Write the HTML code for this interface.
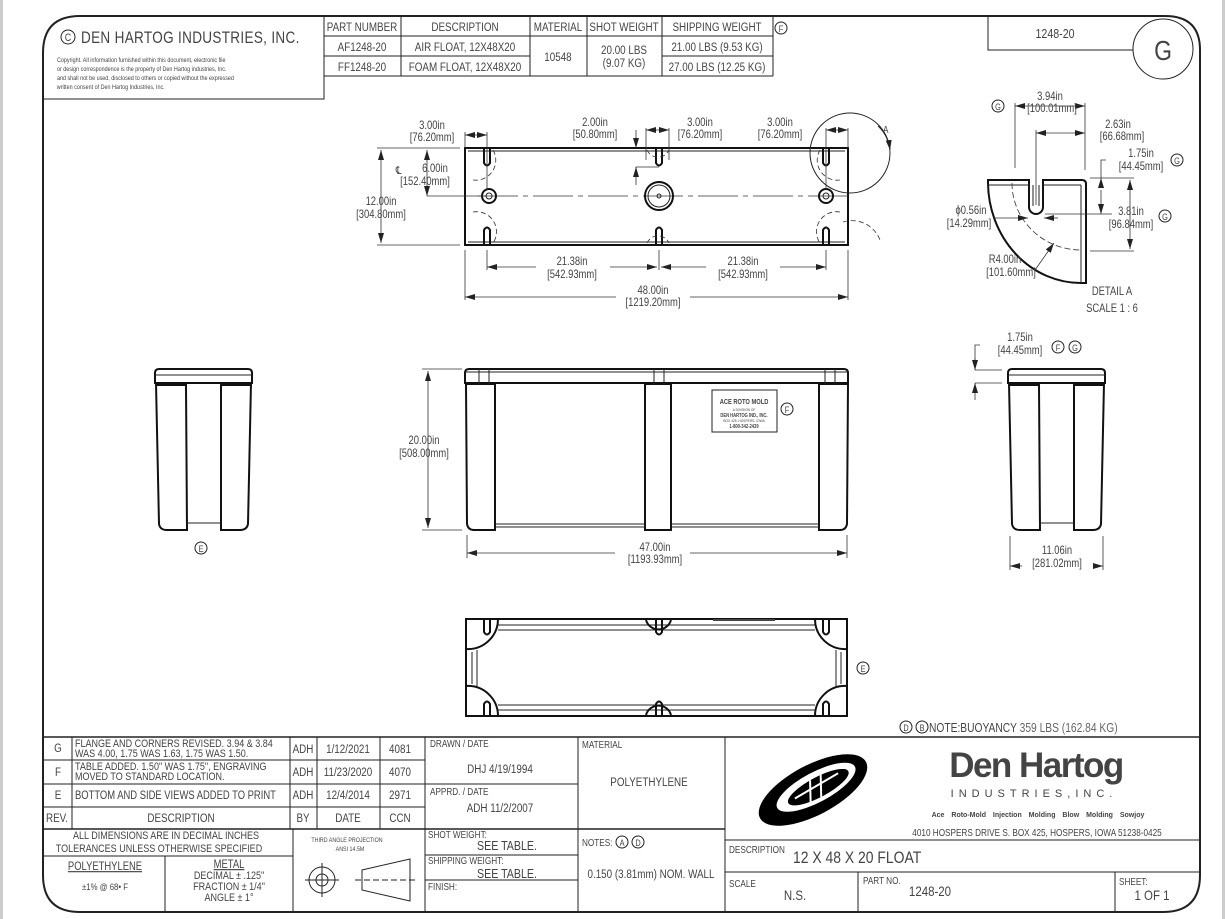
<!DOCTYPE html>
<html><head><meta charset="utf-8"><style>
html,body{margin:0;padding:0;background:#fff;}
svg{display:block;}
text{font-family:"Liberation Sans",sans-serif;fill:#444;transform-box:fill-box;transform-origin:left center;transform:scaleX(0.82);}
text[text-anchor="middle"], g[text-anchor="middle"] text{transform-origin:center center;}
text.nos{transform:none;}
.l{stroke:#222;fill:none;stroke-width:1;}
.t{stroke:#111;fill:none;stroke-width:2;}
.d{stroke:#333;fill:none;stroke-width:0.8;}
</style></head><body>
<svg width="1225" height="919" viewBox="0 0 1225 919" xmlns="http://www.w3.org/2000/svg">
<defs>
<marker id="a" viewBox="0 0 10 6" refX="10" refY="3" markerWidth="10" markerHeight="6" orient="auto-start-reverse" markerUnits="userSpaceOnUse"><path d="M0,0L10,3L0,6z" fill="#222"/></marker>
<g id="side">
<path class="t" d="M0,4 Q0,0 4,0 L93,0 Q97,0 97,4 L97,14 L0,14 Z"/>
<line class="l" x1="0" y1="6" x2="97" y2="6"/>
<path class="t" d="M1,14 L4,155 Q5,161 12,161 L32,161 L31,16 L1,16"/>
<path class="t" d="M96,14 L93,155 Q92,161 85,161 L66,161 L66,16 L96,16"/>
<line class="l" x1="31" y1="154" x2="66" y2="154"/>
</g>
</defs>
<rect x="0" y="0" width="3" height="919" fill="#ccc"/>
<rect x="1222" y="0" width="3" height="919" fill="#ccc"/>
<path d="M80,16 L1165,16 Q1200,16 1200,50 L1200,875 Q1200,912 1163,912 L80,912 Q43,912 43,875 L43,53 Q43,16 80,16 Z" fill="none" stroke="#222" stroke-width="2"/>
<path class="l" d="M43,99 L324,99 L324,16"/>
<circle cx="68" cy="37" r="7" class="l"/><text x="68" y="41" font-size="11" text-anchor="middle">C</text>
<text x="81" y="43" font-size="16.5" letter-spacing="0.4">DEN HARTOG INDUSTRIES, INC.</text>
<text x="57" y="62" font-size="6.6">Copyright. All information furnished within this document, electronic file</text>
<text x="57" y="71" font-size="6.6">or design correspondence is the property of Den Hartog industries, Inc.</text>
<text x="57" y="80" font-size="6.6">and shall not be used, disclosed to others or copied without the expressed</text>
<text x="57" y="89" font-size="6.6">written consent of Den Hartog Industries, Inc.</text>
<g class="l">
<line x1="324" y1="36" x2="773" y2="36"/><line x1="324" y1="56" x2="530" y2="56"/><line x1="662" y1="56" x2="773" y2="56"/>
<line x1="324" y1="76" x2="773" y2="76"/>
<line x1="401" y1="16" x2="401" y2="76"/><line x1="530" y1="16" x2="530" y2="76"/><line x1="587" y1="16" x2="587" y2="76"/><line x1="662" y1="16" x2="662" y2="76"/><line x1="773" y1="16" x2="773" y2="76"/>
</g>
<g font-size="12" text-anchor="middle">
<text x="362" y="31">PART NUMBER</text><text x="465" y="31">DESCRIPTION</text><text x="558" y="31">MATERIAL</text><text x="624" y="31">SHOT WEIGHT</text><text x="717" y="31">SHIPPING WEIGHT</text>
<text x="362" y="51">AF1248-20</text><text x="465" y="51">AIR FLOAT, 12X48X20</text>
<text x="362" y="71">FF1248-20</text><text x="465" y="71">FOAM FLOAT, 12X48X20</text>
<text x="558" y="61">10548</text><text x="624" y="54">20.00 LBS</text><text x="624" y="67">(9.07 KG)</text>
<text x="717" y="51">21.00 LBS (9.53 KG)</text><text x="717" y="71">27.00 LBS (12.25 KG)</text>
</g>
<circle cx="781" cy="28" r="6" class="l"/><text x="781" y="32" font-size="9" text-anchor="middle">F</text>
<path class="l" d="M988,16 L988,50 L1133,50"/>
<text x="1055" y="38" font-size="13" text-anchor="middle">1248-20</text>
<circle cx="1163" cy="49" r="30" class="l" fill="#fff"/>
<text x="1163" y="60" font-size="28" text-anchor="middle" fill="#333">G</text>

<!-- TOP VIEW -->
<rect x="465" y="148" width="383" height="97" class="t"/>
<line class="l" x1="468" y1="151" x2="845" y2="151"/><line class="l" x1="468" y1="242" x2="845" y2="242"/>
<g class="t">
<path d="M484,149 L484,163 Q487,168 490,163 L490,149"/>
<path d="M656,149 L656,163 Q659,168 662,163 L662,149"/>
<path d="M823,149 L823,163 Q826,168 829,163 L829,149"/>
<path d="M484,244 L484,230 Q487,225 490,230 L490,244"/>
<path d="M656,244 L656,230 Q659,225 662,230 L662,244"/>
<path d="M823,244 L823,230 Q826,225 829,230 L829,244"/>
</g>
<g class="d" stroke-dasharray="5,3">
<path d="M493,150 A20,20 0 0,1 473,180"/><path d="M473,212 A20,20 0 0,1 493,243"/>
<path d="M647,150 A12,12 0 0,0 669,150"/><path d="M647,243 A12,12 0 0,1 669,243"/>
<path d="M820,150 A20,20 0 0,0 840,180"/><path d="M840,212 A20,20 0 0,0 820,243"/>
<path d="M843,222 A30,30 0 0,1 880,240"/>
<line x1="478" y1="196" x2="850" y2="196" stroke-dasharray="40,5,5,5"/>
</g>
<circle cx="489" cy="196" r="7" class="t"/><circle cx="489" cy="196" r="3" class="l"/>
<circle cx="826" cy="196" r="7" class="t"/><circle cx="826" cy="196" r="3" class="l"/>
<circle cx="659" cy="196" r="14" class="t"/><circle cx="659" cy="196" r="11" class="l"/><circle cx="659" cy="196" r="2" class="l"/>
<circle cx="850" cy="153" r="40" class="l"/>
<path class="l" d="M878,126 Q888,135 890,150" marker-end="url(#a)"/>
<text x="883" y="133" font-size="10">A</text>
<g class="d">
<line x1="465" y1="132" x2="465" y2="148"/><line x1="487" y1="132" x2="487" y2="190"/>
<line x1="465" y1="135" x2="487" y2="135" marker-start="url(#a)" marker-end="url(#a)"/>
<line x1="646" y1="128" x2="646" y2="160"/><line x1="669" y1="128" x2="669" y2="160"/>
<line x1="646" y1="130" x2="669" y2="130" marker-start="url(#a)" marker-end="url(#a)"/>
<line x1="826" y1="128" x2="826" y2="190"/><line x1="848" y1="128" x2="848" y2="148"/>
<line x1="826" y1="130" x2="848" y2="130" marker-start="url(#a)" marker-end="url(#a)"/>
<line x1="636" y1="130" x2="636" y2="148" marker-end="url(#a)"/>
<path d="M659,167 L636,167 L636,185"/><line x1="636" y1="175" x2="636" y2="167" marker-end="url(#a)"/>
<line x1="377" y1="148" x2="460" y2="148"/><line x1="377" y1="245" x2="460" y2="245"/>
<line x1="381" y1="150" x2="381" y2="243" marker-start="url(#a)" marker-end="url(#a)"/>
<line x1="427" y1="196" x2="486" y2="196"/>
<line x1="427" y1="150" x2="427" y2="196" marker-start="url(#a)" marker-end="url(#a)"/>
<line x1="487" y1="250" x2="487" y2="270"/><line x1="826" y1="250" x2="826" y2="270"/><line x1="659" y1="250" x2="659" y2="270"/>
<line x1="487" y1="267" x2="536" y2="267" marker-start="url(#a)"/><line x1="610" y1="267" x2="657" y2="267" marker-end="url(#a)"/>
<line x1="661" y1="267" x2="706" y2="267" marker-start="url(#a)"/><line x1="780" y1="267" x2="826" y2="267" marker-end="url(#a)"/>
<line x1="465" y1="250" x2="465" y2="300"/><line x1="848" y1="250" x2="848" y2="300"/>
<line x1="465" y1="297" x2="616" y2="297" marker-start="url(#a)"/><line x1="690" y1="297" x2="848" y2="297" marker-end="url(#a)"/>
</g>
<g font-size="11.5" text-anchor="middle">
<text x="432" y="129">3.00in</text><text x="432" y="141">[76.20mm]</text>
<text x="595" y="126">2.00in</text><text x="595" y="138">[50.80mm]</text>
<text x="700" y="126">3.00in</text><text x="700" y="138">[76.20mm]</text>
<text x="780" y="126">3.00in</text><text x="780" y="138">[76.20mm]</text>
<text x="435" y="172">6.00in</text><text x="425" y="185">[152.40mm]</text>
<text x="381" y="205">12.00in</text><text x="381" y="218">[304.80mm]</text>
<text x="572" y="265">21.38in</text><text x="572" y="278">[542.93mm]</text>
<text x="743" y="265">21.38in</text><text x="743" y="278">[542.93mm]</text>
<text x="653" y="294">48.00in</text><text x="653" y="306">[1219.20mm]</text>
</g>
<text x="396" y="174" font-size="11">℄</text>

<!-- DETAIL A -->
<path class="t" d="M988,180 L1029,180 L1029,207 A7,7 0 0,0 1043,207 L1043,180 L1082,180 Q1086,180 1086,184 L1086,283 L1081,283 A93,101 0 0,1 988,183 Z"/>
<g class="l">
<line x1="988" y1="185" x2="1029" y2="185"/><line x1="1043" y1="185" x2="1081" y2="185"/>
<line x1="1081" y1="185" x2="1081" y2="283"/>
<line x1="1033" y1="185" x2="1033" y2="206"/><line x1="1039" y1="185" x2="1039" y2="206"/>
</g>
<path class="d" stroke-dasharray="6,3" d="M1012,183 A69,67 0 0,0 1081,250"/>
<g class="d">
<line x1="1015" y1="103" x2="1015" y2="168"/><line x1="1085" y1="103" x2="1085" y2="170"/>
<line x1="1015" y1="106" x2="1085" y2="106" marker-start="url(#a)" marker-end="url(#a)"/>
<line x1="1036" y1="130" x2="1036" y2="205"/>
<line x1="1036" y1="133" x2="1085" y2="133" marker-start="url(#a)" marker-end="url(#a)"/>
<line x1="1090" y1="178" x2="1134" y2="178"/><line x1="1045" y1="214" x2="1112" y2="214"/><line x1="1090" y1="251" x2="1134" y2="251"/>
<path d="M1106,160 L1101,160 L1101,178"/><line x1="1101" y1="185" x2="1101" y2="178" marker-end="url(#a)"/><line x1="1101" y1="190" x2="1101" y2="214" marker-end="url(#a)"/>
<line x1="1130" y1="180" x2="1130" y2="249" marker-start="url(#a)" marker-end="url(#a)"/>
<line x1="994" y1="218" x2="1028" y2="218" marker-end="url(#a)"/><line x1="1058" y1="218" x2="1044" y2="218" marker-end="url(#a)"/>
<line x1="1035" y1="270" x2="1054" y2="243" marker-end="url(#a)"/>
</g>
<circle cx="998" cy="106" r="6" class="l"/><text x="998" y="110" font-size="9" text-anchor="middle">G</text>
<circle cx="1177" cy="160" r="6" class="l"/><text x="1177" y="164" font-size="9" text-anchor="middle">G</text>
<circle cx="1165" cy="216" r="6" class="l"/><text x="1165" y="220" font-size="9" text-anchor="middle">G</text>
<g font-size="11.5" text-anchor="middle">
<text x="1050" y="100">3.94in</text><text x="1052" y="112">[100.01mm]</text>
<text x="1118" y="128">2.63in</text><text x="1122" y="140">[66.68mm]</text>
<text x="1141" y="157">1.75in</text><text x="1141" y="170">[44.45mm]</text>
<text x="1131" y="215">3.81in</text><text x="1131" y="228">[96.84mm]</text>
<text x="971" y="214">ϕ0.56in</text><text x="969" y="227">[14.29mm]</text>
<text x="1005" y="263">R4.00in</text><text x="1011" y="276">[101.60mm]</text>
<text x="1112" y="295">DETAIL A</text><text x="1112" y="312">SCALE 1 : 6</text>
</g>

<!-- SIDE VIEWS -->
<use href="#side" x="155" y="369"/>
<use href="#side" x="1008" y="369"/>
<circle cx="201" cy="548" r="6" class="l"/><text x="201" y="552" font-size="9" text-anchor="middle">E</text>
<g class="d">
<line x1="975" y1="370" x2="1002" y2="370"/><line x1="975" y1="383" x2="1002" y2="383"/>
<path d="M980,345 L975,345 L975,370"/><line x1="975" y1="358" x2="975" y2="370" marker-end="url(#a)"/>
<line x1="975" y1="400" x2="975" y2="383" marker-end="url(#a)"/>
<line x1="1010" y1="536" x2="1010" y2="570"/><line x1="1103" y1="536" x2="1103" y2="570"/>
<line x1="1010" y1="566" x2="1022" y2="566" marker-start="url(#a)"/><line x1="1094" y1="566" x2="1103" y2="566" marker-end="url(#a)"/>
</g>
<text x="1020" y="341" font-size="11.5" text-anchor="middle">1.75in</text><text x="1020" y="354" font-size="11.5" text-anchor="middle">[44.45mm]</text>
<circle cx="1058" cy="347" r="6" class="l"/><text x="1058" y="351" font-size="9" text-anchor="middle">F</text>
<circle cx="1075" cy="347" r="6" class="l"/><text x="1075" y="351" font-size="9" text-anchor="middle">G</text>
<text x="1057" y="554" font-size="11.5" text-anchor="middle">11.06in</text><text x="1057" y="567" font-size="11.5" text-anchor="middle">[281.02mm]</text>

<!-- FRONT VIEW -->
<path class="t" d="M465,373 Q465,369 469,369 L844,369 Q848,369 848,373 L848,383 L465,383 Z"/>
<line class="l" x1="465" y1="372" x2="848" y2="372"/>
<g class="t">
<path d="M466,384 L467,524 Q468,530 474,530 L495,530 L495,384 Z"/>
<path d="M645,384 L645,530 L671,530 L671,384 Z"/>
<path d="M819,384 L819,530 L840,530 Q846,530 847,524 L848,384 Z"/>
</g>
<path class="l" d="M654,369 L654,384 M664,369 L664,384 M479,369 L479,384 M489,369 L489,384 M825,369 L825,384 M835,369 L835,384"/>
<line class="l" x1="495" y1="524" x2="645" y2="524"/><line class="l" x1="671" y1="524" x2="819" y2="524"/>
<line class="l" x1="495" y1="527" x2="645" y2="527"/><line class="l" x1="671" y1="527" x2="819" y2="527"/>
<rect x="712" y="390" width="65" height="42" class="l"/>
<text x="744" y="404" font-size="7" text-anchor="middle" font-weight="bold" fill="#111">ACE ROTO MOLD</text>
<text x="744" y="411" font-size="4" text-anchor="middle" fill="#111">A DIVISION OF</text>
<text x="744" y="417" font-size="5" text-anchor="middle" font-weight="bold" fill="#111">DEN HARTOG IND., INC.</text>
<text x="744" y="422" font-size="4" text-anchor="middle" fill="#111">BOX 425, HOSPERS, IOWA</text>
<text x="744" y="428" font-size="5" text-anchor="middle" font-weight="bold" fill="#111">1-800-342-2439</text>
<circle cx="787" cy="409" r="6" class="l"/><text x="787" y="413" font-size="9" text-anchor="middle">F</text>
<g class="d">
<line x1="422" y1="369" x2="462" y2="369"/><line x1="422" y1="530" x2="462" y2="530"/>
<line x1="428" y1="371" x2="428" y2="528" marker-start="url(#a)" marker-end="url(#a)"/>
<line x1="467" y1="535" x2="467" y2="558"/><line x1="847" y1="535" x2="847" y2="558"/>
<line x1="467" y1="553" x2="615" y2="553" marker-start="url(#a)"/><line x1="690" y1="553" x2="847" y2="553" marker-end="url(#a)"/>
</g>
<text x="424" y="444" font-size="11.5" text-anchor="middle">20.00in</text><text x="424" y="457" font-size="11.5" text-anchor="middle">[508.00mm]</text>
<text x="655" y="551" font-size="11.5" text-anchor="middle">47.00in</text><text x="655" y="563" font-size="11.5" text-anchor="middle">[1193.93mm]</text>

<!-- BOTTOM VIEW -->
<rect x="466" y="619" width="381" height="97" class="t"/>
<g class="l">
<line x1="498" y1="625" x2="815" y2="625"/><line x1="498" y1="630" x2="815" y2="630"/>
<line x1="498" y1="710" x2="815" y2="710"/><line x1="498" y1="705" x2="815" y2="705"/>
<line x1="472" y1="652" x2="472" y2="684"/><line x1="477" y1="650" x2="477" y2="686"/>
<line x1="841" y1="652" x2="841" y2="684"/><line x1="836" y1="650" x2="836" y2="686"/>
</g>
<g class="t">
<path d="M498,619 A30,30 0 0,1 466,649"/><path d="M466,686 A30,30 0 0,1 498,716"/>
<path d="M815,619 A30,30 0 0,0 847,649"/><path d="M847,686 A30,30 0 0,0 815,716"/>
<path d="M646,620 A13,13 0 0,0 671,620"/><path d="M646,715 A13,13 0 0,1 671,715"/>
<path d="M484,620 L484,632 Q487,637 490,632 L490,620"/><path d="M656,620 L656,632 Q659,637 662,632 L662,620"/><path d="M823,620 L823,632 Q826,637 829,632 L829,620"/>
<path d="M484,716 L484,704 Q487,699 490,704 L490,716"/><path d="M656,716 L656,704 Q659,699 662,704 L662,716"/><path d="M823,716 L823,704 Q826,699 829,704 L829,716"/>
</g>
<line x1="713" y1="620" x2="775" y2="620" stroke="#444" stroke-width="2"/>
<circle cx="863" cy="668" r="6" class="l"/><text x="863" y="672" font-size="9" text-anchor="middle">E</text>

<circle cx="906" cy="727" r="6" class="l"/><text x="906" y="731" font-size="9" text-anchor="middle">D</text>
<circle cx="922" cy="727" r="6" class="l"/><text x="922" y="731" font-size="9" text-anchor="middle">B</text>
<text x="929" y="732" font-size="12.5" fill="#333">NOTE:BUOYANCY <tspan fill="#666">359 LBS (162.84 KG)</tspan></text>

<!-- TITLE BLOCK -->
<g class="l">
<line x1="43" y1="737" x2="1200" y2="737" stroke-width="1.5"/>
<line x1="43" y1="760" x2="425" y2="760"/><line x1="43" y1="784" x2="425" y2="784"/><line x1="43" y1="807" x2="425" y2="807"/><line x1="43" y1="829" x2="725" y2="829" stroke-width="1.5"/>
<line x1="72" y1="737" x2="72" y2="829"/><line x1="290" y1="737" x2="290" y2="829"/><line x1="317" y1="737" x2="317" y2="829"/><line x1="380" y1="737" x2="380" y2="829"/>
<line x1="425" y1="737" x2="425" y2="912"/><line x1="293" y1="829" x2="293" y2="912"/>
<line x1="43" y1="856" x2="293" y2="856"/><line x1="165" y1="856" x2="165" y2="912"/>
<line x1="425" y1="784" x2="578" y2="784"/><line x1="425" y1="855" x2="578" y2="855"/><line x1="425" y1="880" x2="578" y2="880"/>
<line x1="578" y1="737" x2="578" y2="912"/><line x1="725" y1="737" x2="725" y2="912"/>
<line x1="725" y1="840" x2="1200" y2="840"/><line x1="725" y1="872" x2="1200" y2="872"/>
<line x1="858" y1="872" x2="858" y2="912"/><line x1="1115" y1="872" x2="1115" y2="912"/>
</g>
<g font-size="12">
<text x="58" y="752" text-anchor="middle">G</text><text x="58" y="776" text-anchor="middle">F</text><text x="58" y="799" text-anchor="middle">E</text><text x="57" y="822" text-anchor="middle">REV.</text>
<text x="75" y="747" font-size="11">FLANGE AND CORNERS REVISED. 3.94 &amp; 3.84</text>
<text x="75" y="757" font-size="11">WAS 4.00, 1.75 WAS 1.63, 1.75 WAS 1.50.</text>
<text x="75" y="770" font-size="11">TABLE ADDED. 1.50" WAS 1.75", ENGRAVING</text>
<text x="75" y="780" font-size="11">MOVED TO STANDARD LOCATION.</text>
<text x="75" y="799" font-size="11.5">BOTTOM AND SIDE VIEWS ADDED TO PRINT</text>
<text x="181" y="822" text-anchor="middle">DESCRIPTION</text>
<text x="303" y="753" text-anchor="middle">ADH</text><text x="348" y="753" text-anchor="middle">1/12/2021</text><text x="400" y="753" text-anchor="middle">4081</text>
<text x="303" y="776" text-anchor="middle">ADH</text><text x="348" y="776" text-anchor="middle">11/23/2020</text><text x="400" y="776" text-anchor="middle">4070</text>
<text x="303" y="799" text-anchor="middle">ADH</text><text x="348" y="799" text-anchor="middle">12/4/2014</text><text x="400" y="799" text-anchor="middle">2971</text>
<text x="303" y="822" text-anchor="middle">BY</text><text x="348" y="822" text-anchor="middle">DATE</text><text x="400" y="822" text-anchor="middle">CCN</text>
<text x="166" y="839" text-anchor="middle" font-size="11">ALL DIMENSIONS ARE IN DECIMAL INCHES</text>
<text x="159" y="852" text-anchor="middle" font-size="11">TOLERANCES UNLESS OTHERWISE SPECIFIED</text>
<text x="105" y="870" text-anchor="middle" font-size="11.5" text-decoration="underline">POLYETHYLENE</text>
<text x="105" y="890" text-anchor="middle" font-size="9.5">±1% @ 68• F</text>
<text x="229" y="868" text-anchor="middle" font-size="11.5" text-decoration="underline">METAL</text>
<text x="229" y="879" text-anchor="middle" font-size="11">DECIMAL ± .125"</text>
<text x="229" y="890" text-anchor="middle" font-size="11">FRACTION ± 1/4"</text>
<text x="229" y="901" text-anchor="middle" font-size="11">ANGLE ± 1°</text>
<text x="347" y="842" text-anchor="middle" font-size="6.5">THIRD ANGLE PROJECTION</text>
<text x="350" y="851" text-anchor="middle" font-size="6.5">ANSI 14.5M</text>
<text x="430" y="747" font-size="10">DRAWN / DATE</text><text x="500" y="773" font-size="12" text-anchor="middle">DHJ 4/19/1994</text>
<text x="430" y="795" font-size="10">APPRD. / DATE</text><text x="500" y="812" font-size="12" text-anchor="middle">ADH 11/2/2007</text>
<text x="428" y="838" font-size="10">SHOT WEIGHT:</text><text x="507" y="850" font-size="13" text-anchor="middle">SEE TABLE.</text>
<text x="428" y="864" font-size="10">SHIPPING WEIGHT:</text><text x="507" y="878" font-size="13" text-anchor="middle">SEE TABLE.</text>
<text x="428" y="890" font-size="10">FINISH:</text>
<text x="582" y="748" font-size="10">MATERIAL</text><text x="649" y="786" font-size="12" text-anchor="middle">POLYETHYLENE</text>
<text x="582" y="846" font-size="10">NOTES:</text>
<text x="651" y="878" font-size="12" text-anchor="middle">0.150 (3.81mm) NOM. WALL</text>
<text x="729" y="853" font-size="10">DESCRIPTION</text><text x="793" y="863" font-size="17">12 X 48 X 20 FLOAT</text>
<text x="729" y="887" font-size="10">SCALE</text><text x="795" y="900" font-size="14" text-anchor="middle">N.S.</text>
<text x="863" y="884" font-size="10">PART NO.</text><text x="930" y="896" font-size="14" text-anchor="middle">1248-20</text>
<text x="1119" y="885" font-size="10">SHEET:</text><text x="1152" y="900" font-size="14" text-anchor="middle">1 OF 1</text>
</g>
<circle cx="622" cy="842" r="6" class="l"/><text x="622" y="846" font-size="9" text-anchor="middle">A</text>
<circle cx="638" cy="842" r="6" class="l"/><text x="638" y="846" font-size="9" text-anchor="middle">D</text>
<g class="l">
<circle cx="322" cy="880" r="13"/><circle cx="322" cy="880" r="6"/>
<line x1="305" y1="880" x2="339" y2="880"/><line x1="322" y1="863" x2="322" y2="897"/>
<path d="M362,870 L410,859 L410,901 L362,890 Z"/>
<line x1="355" y1="880" x2="418" y2="880" stroke-dasharray="6,3"/>
</g>
<g transform="translate(813,790) rotate(-28)">
<ellipse cx="0" cy="0" rx="60" ry="25" fill="#000"/>
<ellipse cx="4" cy="-1" rx="44" ry="15" fill="#fff"/>
<ellipse cx="6" cy="0" rx="34" ry="10" fill="#000"/>
<path d="M-8,10 L2,-10 M4,10 L14,-10 M-20,-1 L30,-3" stroke="#fff" stroke-width="2" fill="none"/>
</g>
<text class="nos" x="1036" y="777" font-size="35" font-weight="bold" fill="#111" text-anchor="middle" letter-spacing="-1.5">Den Hartog</text>
<text class="nos" x="1034" y="797" font-size="11" fill="#333" text-anchor="middle" letter-spacing="5">INDUSTRIES,INC.</text>
<text class="nos" x="1038" y="817" font-size="7" font-weight="bold" fill="#333" text-anchor="middle" word-spacing="5">Ace Roto-Mold  Injection Molding  Blow Molding  Sowjoy</text>
<text x="1037" y="836" font-size="10" fill="#444" text-anchor="middle">4010 HOSPERS DRIVE S.  BOX 425, HOSPERS, IOWA 51238-0425</text>
</svg>
</body></html>
